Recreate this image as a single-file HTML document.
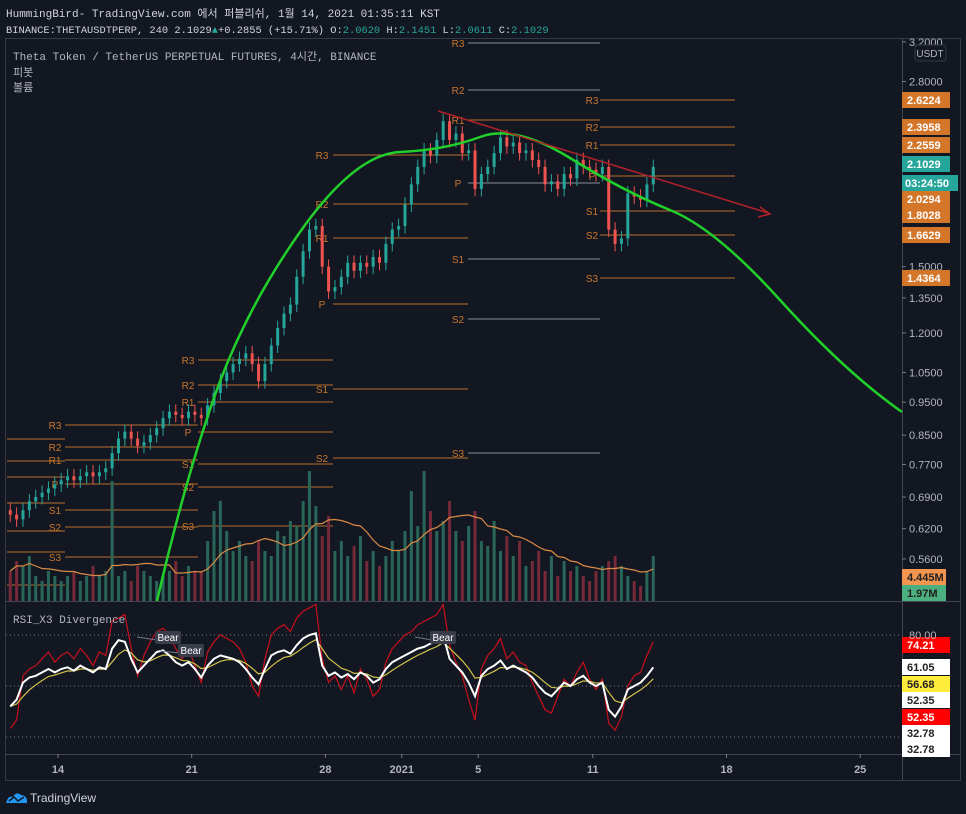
<!DOCTYPE html>
<html><head><meta charset="utf-8">
<style>
html,body{margin:0;padding:0;background:#131722;}
body{width:966px;height:814px;overflow:hidden;font-family:"Liberation Sans","Noto Sans CJK KR",sans-serif;}
svg{display:block}
.mono{font-family:"Liberation Mono","Noto Sans CJK KR",monospace;}
</style></head>
<body>
<svg id="chart" width="966" height="814" viewBox="0 0 966 814">
<rect x="0" y="0" width="966" height="814" fill="#131722"/>
<text x="6" y="17" class="mono" font-size="11" fill="#d1d4dc">HummingBird- TradingView.com 에서 퍼블리쉬, 1월 14, 2021 01:35:11 KST</text>
<text x="6" y="33" class="mono" font-size="10.4" fill="#d1d4dc">BINANCE:THETAUSDTPERP, 240 2.1029<tspan fill="#26a69a">▲</tspan>+0.2855 (+15.71%) O:<tspan fill="#26a69a">2.0620</tspan> H:<tspan fill="#26a69a">2.1451</tspan> L:<tspan fill="#26a69a">2.0611</tspan> C:<tspan fill="#26a69a">2.1029</tspan></text>
<rect x="5.5" y="38.5" width="955" height="742" fill="none" stroke="#363a45"/>
<line x1="902.5" y1="38" x2="902.5" y2="780" stroke="#434651"/>
<line x1="5" y1="601.5" x2="960" y2="601.5" stroke="#434651"/>
<line x1="5" y1="754.5" x2="960" y2="754.5" stroke="#434651"/>
<g id="pivots"></g>
<g id="volume"></g>
<g id="candles"></g>
<path d="M157,601 Q185,480 215,395 T300,232 T400,152 T480,137 T570,158 T670,210 T780,300 T902,412" fill="none" stroke="#22d02b" stroke-width="2.5"/>
<line x1="438" y1="111" x2="768" y2="213" stroke="#b2212a" stroke-width="1.5"/>
<path d="M760,207 L770,214 L758,217" fill="none" stroke="#b2212a" stroke-width="1.5"/>
<g id="rsi"></g>
<g id="axes"></g>
<text x="13" y="60" class="mono" font-size="11" fill="#b2b5be">Theta Token / TetherUS PERPETUAL FUTURES, 4시간, BINANCE</text>
<text x="13" y="76" class="mono" font-size="11" fill="#b2b5be">피봇</text>
<text x="13" y="91" class="mono" font-size="11" fill="#b2b5be">볼륨</text>
<text x="13" y="623" class="mono" font-size="11" fill="#b2b5be">RSI_X3 Divergence</text>
<g>
<path d="M6,803 Q8,795 13,797 Q16,791 21,795 Q26,795 27,800 L27,803 Z" fill="#2196f3"/>
<path d="M9,801 L14,797 L18,801 L24,797" fill="none" stroke="#131722" stroke-width="1.5"/>
<text x="30" y="802" font-size="12" fill="#d1d4dc">TradingView</text>
</g>
</svg>
<script>
const NS='http://www.w3.org/2000/svg';
// ---- data ----
const startDay=-2.5; // days from Dec 14, 8h candles
const closes=[0.65,0.64,0.66,0.68,0.69,0.70,0.71,0.72,0.73,0.74,0.73,0.74,0.75,0.74,0.75,0.76,0.80,0.84,0.86,0.84,0.82,0.83,0.85,0.87,0.90,0.92,0.91,0.90,0.92,0.91,0.90,0.94,0.98,1.02,1.05,1.08,1.10,1.12,1.08,1.02,1.08,1.15,1.22,1.28,1.32,1.45,1.58,1.70,1.72,1.50,1.38,1.40,1.45,1.52,1.48,1.52,1.50,1.55,1.52,1.62,1.70,1.72,1.85,1.98,2.10,2.22,2.18,2.30,2.45,2.30,2.35,2.20,2.22,1.95,2.05,2.10,2.20,2.32,2.25,2.28,2.20,2.22,2.15,2.10,1.98,2.00,1.95,2.05,2.02,2.15,2.10,2.08,2.05,2.10,1.70,1.62,1.65,1.92,1.90,1.88,1.98,2.10];
const firstOpen=0.66;
const volumes=[6,8,7,9,5,4,6,5,4,5,6,4,5,7,5,6,24,5,6,4,7,6,5,4,5,6,8,5,7,6,6,12,18,20,14,10,12,9,8,12,10,9,14,13,16,15,20,26,19,13,17,10,12,9,11,13,8,10,7,9,12,10,14,22,15,26,18,14,16,20,14,12,15,18,12,11,16,10,13,9,12,7,8,10,6,9,5,8,6,7,5,4,6,7,8,9,7,5,4,3,6,9];
const rsiMid=[38,42,52,55,56,58,60,58,60,61,59,62,60,58,61,60,72,77,76,66,58,62,66,70,71,68,64,62,64,60,55,62,66,68,67,66,64,60,55,51,60,68,70,71,69,74,78,80,81,62,56,58,55,57,54,58,56,52,54,60,64,66,68,70,72,73,75,76,80,66,62,58,52,44,56,60,62,65,60,62,60,58,55,50,46,44,48,52,50,54,56,52,50,52,36,32,38,48,50,52,56,61];
const rsiFast=[25,30,56,60,62,66,70,64,68,70,66,72,68,62,70,68,88,90,92,72,56,68,76,82,84,80,72,66,72,62,52,70,76,80,78,76,72,64,50,44,66,80,84,86,82,90,94,96,98,66,52,56,48,56,46,60,54,44,48,64,72,76,80,82,86,88,90,92,98,74,64,56,42,30,60,68,72,78,66,70,64,62,52,44,36,34,44,54,50,58,64,54,48,54,28,24,32,50,56,58,68,76];
const priceTicks=[3.2,2.8,1.5,1.35,1.2,1.05,0.95,0.85,0.77,0.69,0.62,0.56];
const timeLabels=['14','21','28','2021','5','11','18','25'];
const timeDays=[0,7,14,18,22,28,35,42];
const pivotGroups=[
 {x1:7,x2:65,lv:[439,461,477,503,531,552,585],lab:null},
 {x1:65,x2:198,lv:[425,447,460,484,510,527,557],lab:55},
 {x1:198,x2:333,lv:[360,385,402,432,464,487,526],lab:188},
 {x1:333,x2:468,lv:[155,204,238,304,389,458,null],lab:322},
 {x1:468,x2:600,lv:[43,90,120,183,259,319,453],lab:458},
 {x1:600,x2:735,lv:[100,127,145,176,211,235,278],lab:592}];
const pivotNames=['R3','R2','R1','P','S1','S2','S3'];
// ---- scales ----
const xDay=d=>58+d*19.1;
const xIdx=i=>xDay(startDay+i/3);
const yP=p=>42+(1.163-Math.log(p))*296.6;
const yV=v=>601-v*5.0;
const yR=v=>686-(v-50)*1.7;
function mk(tag,attrs,parent){const e=document.createElementNS(NS,tag);for(const k in attrs)e.setAttribute(k,attrs[k]);parent.appendChild(e);return e;}
// pivots
const gP=document.getElementById('pivots');
pivotGroups.forEach((g,gi)=>{g.lv.forEach((y,li)=>{if(y===null)return;
 const col=(gi===4&&li!==2)?'#8a8d96':'#b86f2c';
 const l=mk('line',{x1:g.x1,x2:g.x2,y1:y,y2:y,stroke:col,'stroke-width':1},gP);
 
 
 if(g.lab!==null){const t=mk('text',{x:g.lab,y:y+4,'font-size':10,fill:'#c9772c','text-anchor':'middle'},gP);t.textContent=pivotNames[li];
 
 }
});});
// volume + candles
const gV=document.getElementById('volume'),gC=document.getElementById('candles');
let ma=[];
closes.forEach((c,i)=>{
 const o=i===0?firstOpen:closes[i-1];
 const up=c>=o,x=xIdx(i);
 const col=up?'#26a69a':'#ef5350';
 const vb=mk('rect',{x:x-1.5,y:yV(volumes[i]),width:3,height:601-yV(volumes[i]),fill:up?'#2a6658':'#762a39'},gV);
 
 
 const hi=Math.max(o,c)*1.025,lo=Math.min(o,c)*0.975;
 const w=mk('line',{x1:x,x2:x,y1:yP(hi),y2:yP(lo),stroke:col,'stroke-width':1},gC);
 
 
 const top=yP(Math.max(o,c)),bot=yP(Math.min(o,c));
 const b=mk('rect',{x:x-1.5,y:top,width:3,height:Math.max(1,bot-top),fill:col},gC);
 
 
 const s=volumes.slice(Math.max(0,i-9),i+1);ma.push(s.reduce((a,b)=>a+b,0)/s.length);
});
const maLine=mk('polyline',{points:ma.map((v,i)=>xIdx(i)+','+yV(v)).join(' '),fill:'none',stroke:'#d98a45','stroke-width':1.2},gV);


// RSI
const gR=document.getElementById('rsi');
[80,50,20].forEach(v=>{const l=mk('line',{x1:6,x2:902,y1:yR(v),y2:yR(v),stroke:'#787b86','stroke-dasharray':'1,3'},gR);
 
 });
let slow=[],e=rsiMid[0];rsiMid.forEach(v=>{e=e+(v-e)*0.35;slow.push(e);});
[[rsiFast,'#c8101c',1.2,'rsi-fast-line'],[slow,'#d4c44a',1.2,'rsi-slow-line'],[rsiMid,'#ffffff',2,'rsi-mid-line']].forEach(s=>{
 const p=mk('polyline',{points:s[0].map((v,i)=>xIdx(i)+','+yR(v)).join(' '),fill:'none',stroke:s[1],'stroke-width':s[2]},gR);
 
 });
[[137,629,155,637],[160,643,178,650],[415,629,430,637]].forEach(b=>{
 const l=mk('line',{x1:b[0],y1:b[1]+8,x2:b[2]+2,y2:b[3]+3,stroke:'#787b86'},gR);
 
 
 const r=mk('rect',{x:b[2],y:b[3]-6,width:26,height:13,rx:2,fill:'#3a3e4a'},gR);
 
 
 const t=mk('text',{x:b[2]+13,y:b[3]+4,'font-size':10,fill:'#ffffff','text-anchor':'middle'},gR);t.textContent='Bear';
 
 });
// axes
const gA=document.getElementById('axes');
priceTicks.forEach(p=>{const y=yP(p);
 mk('line',{x1:902,x2:906,y1:y,y2:y,stroke:'#787b86'},gA);
 const t=mk('text',{x:909,y:y+4,'font-size':11,fill:'#b2b5be'},gA);t.textContent=p.toFixed(4);
 
 });
timeLabels.forEach((s,i)=>{const x=xDay(timeDays[i]);
 mk('line',{x1:x,x2:x,y1:754,y2:758,stroke:'#787b86'},gA);
 const t=mk('text',{x:x,y:773,'font-size':11,'font-weight':'bold',fill:'#b2b5be','text-anchor':'middle'},gA);t.textContent=s;
 
 });
const u=mk('rect',{x:915,y:45,width:31,height:16,rx:3,fill:'#131722',stroke:'#363a45'},gA);


const ut=mk('text',{x:930,y:57,'font-size':10,fill:'#b2b5be','text-anchor':'middle'},gA);ut.textContent='USDT';
const tags=[[100,'2.6224','#d3762a','#fff'],[127,'2.3958','#d3762a','#fff'],[145,'2.2559','#d3762a','#fff'],[164,'2.1029','#26a69a','#fff'],[199,'2.0294','#d3762a','#fff'],[215,'1.8028','#d3762a','#fff'],[235,'1.6629','#d3762a','#fff'],[278,'1.4364','#d3762a','#fff'],[577,'4.445M','#f2954f','#1e1e1e'],[593,'1.97M','#4caf7f','#1e1e1e'],
 [645,'74.21','#ff0000','#fff'],[667,'61.05','#ffffff','#222'],[684,'56.68','#ffeb3b','#222'],[700,'52.35','#ffffff','#222'],[717,'52.35','#ff0000','#fff'],[733,'32.78','#ffffff','#222'],[749,'32.78','#ffffff','#222']];
tags.forEach(g=>{const r=mk('rect',{x:902,y:g[0]-8,width:g[1].indexOf('M')>0?44:48,height:16,fill:g[2]},gA);
 
 
 const t=mk('text',{x:907,y:g[0]+4,'font-size':11,'font-weight':'bold',fill:g[3]},gA);t.textContent=g[1];
 
 });
const cr=mk('rect',{x:902,y:175,width:56,height:16,fill:'#26a69a'},gA);


const ct=mk('text',{x:905,y:187,'font-size':11,'font-weight':'bold',fill:'#fff'},gA);ct.textContent='03:24:50';
const t80=mk('text',{x:909,y:639,'font-size':11,fill:'#b2b5be'},gA);t80.textContent='80.00';


</script>
</body></html>
